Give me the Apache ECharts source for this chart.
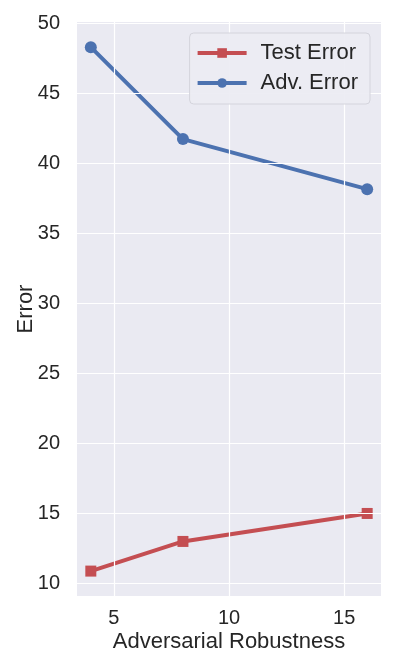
<!DOCTYPE html>
<html><head><meta charset="utf-8">
<script src="https://cdn.jsdelivr.net/npm/echarts@6/dist/echarts.min.js"></script>
<style>html,body{margin:0;padding:0;background:#fff}#c{width:396px;height:669px}</style>
</head><body><div id="c"></div>
<script>
const robustness = [4, 8, 16];
const testError = [10.85, 12.97, 14.97];
const advError = [48.3, 41.73, 38.15];
const xTicks = [5, 10, 15];
const yTicks = [10, 15, 20, 25, 30, 35, 40, 45, 50];

const font = "'Liberation Sans', Arial, sans-serif";
const txt = '#262626';
const chart = echarts.init(document.getElementById('c'), null, {renderer: 'canvas'});
chart.setOption({
  backgroundColor: '#ffffff',
  animation: false,
  grid: {left: 77, right: 15, top: 22, bottom: 73, show: true, backgroundColor: '#EAEAF2', borderWidth: 0},
  legend: {
    right: 26, top: 33,
    z: 10,
    orient: 'vertical',
    itemWidth: 49, itemHeight: 12, itemGap: 8,
    padding: [9, 12, 10, 6],
    backgroundColor: 'rgba(236,236,243,0.92)',
    borderColor: '#d4d4dc', borderWidth: 1, borderRadius: 4,
    lineStyle: {width: 4},
    textStyle: {fontFamily: font, fontSize: 22, color: txt, padding: [0, 0, 0, 9]},
    data: ['Test Error', 'Adv. Error']
  },
  xAxis: {
    type: 'value', min: 3.4, max: 16.6,
    name: 'Adversarial Robustness', nameLocation: 'middle', nameGap: 35,
    nameMoveOverlap: false,
    nameTextStyle: {fontFamily: font, fontSize: 22, color: txt},
    axisLine: {show: false},
    axisTick: {show: false, customValues: xTicks},
    axisLabel: {fontFamily: font, fontSize: 20, color: txt, margin: 12, customValues: xTicks},
    splitLine: {show: false}
  },
  yAxis: {
    type: 'value', min: 9.07, max: 50.1,
    name: 'Error', nameLocation: 'middle', nameGap: 40,
    nameMoveOverlap: false,
    nameTextStyle: {fontFamily: font, fontSize: 22, color: txt},
    axisLine: {show: false},
    axisTick: {show: false, customValues: yTicks},
    axisLabel: {fontFamily: font, fontSize: 20, color: txt, margin: 17, customValues: yTicks},
    splitLine: {show: false}
  },
  series: [
    {
      type: 'line', data: [], silent: true, z: 0,
      markLine: {
        silent: true, symbol: 'none', label: {show: false}, animation: false,
        lineStyle: {color: '#ffffff', width: 1.2, type: 'solid'},
        data: xTicks.map(v => ({xAxis: v})).concat(yTicks.map(v => ({yAxis: v})))
      }
    },
    {
      name: 'Test Error', type: 'line', z: 3,
      data: robustness.map((x, i) => [x, testError[i]]),
      symbol: 'rect', symbolSize: 11,
      lineStyle: {color: '#C44E52', width: 4},
      itemStyle: {color: '#C44E52'}
    },
    {
      name: 'Adv. Error', type: 'line', z: 3,
      data: robustness.map((x, i) => [x, advError[i]]),
      symbol: 'circle', symbolSize: 12,
      lineStyle: {color: '#4C72B0', width: 4},
      itemStyle: {color: '#4C72B0'}
    }
  ]
});
</script></body></html>
